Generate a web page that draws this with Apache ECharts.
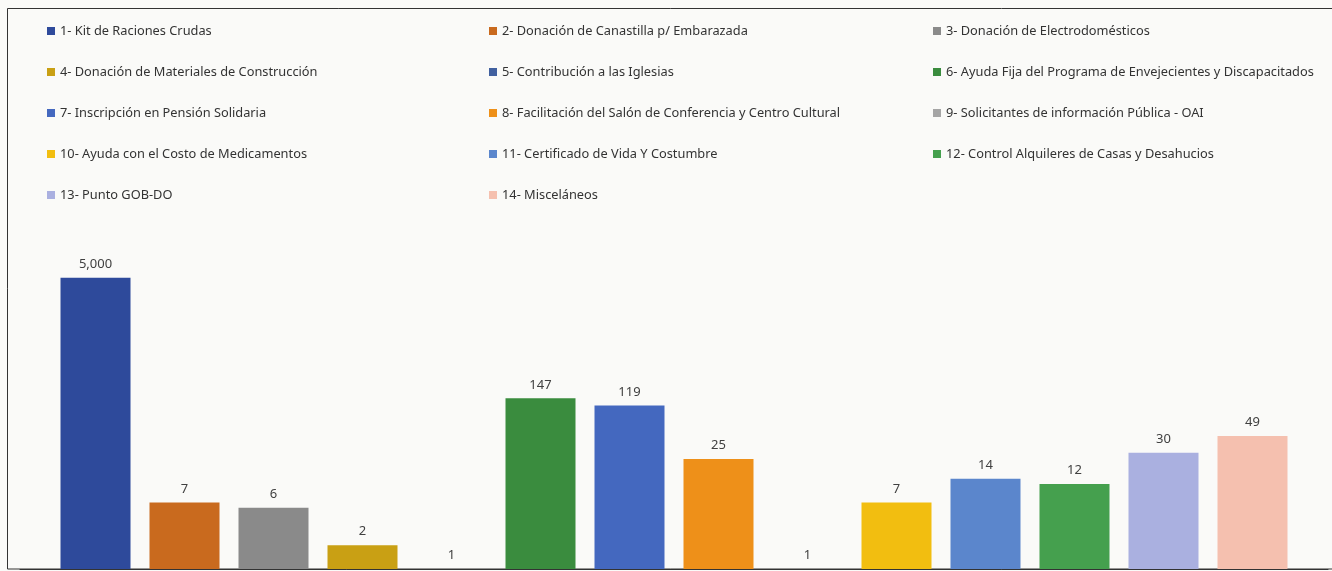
<!DOCTYPE html>
<html>
<head>
<meta charset="utf-8">
<script src="https://cdn.jsdelivr.net/npm/echarts@6/dist/echarts.min.js"></script>
<style>
html,body{margin:0;padding:0;background:#FAFAF8;}
#c{width:1332px;height:571px;}
</style>
</head>
<body>
<div id="c"></div>
<script>
const categories = [
  "1- Kit de Raciones Crudas",
  "2- Donación de Canastilla p/ Embarazada",
  "3- Donación de Electrodomésticos",
  "4- Donación de Materiales de Construcción",
  "5- Contribución a las Iglesias",
  "6- Ayuda Fija del Programa de Envejecientes y Discapacitados",
  "7- Inscripción en Pensión Solidaria",
  "8- Facilitación del Salón de Conferencia y Centro Cultural",
  "9- Solicitantes de información Pública - OAI",
  "10- Ayuda con el Costo de Medicamentos",
  "11- Certificado de Vida Y Costumbre",
  "12- Control Alquileres de Casas y Desahucios",
  "13- Punto GOB-DO",
  "14- Misceláneos"
];
const values = [5000, 7, 6, 2, 1, 147, 119, 25, 1, 7, 14, 12, 30, 49];
const colors = ["#2E4A9B","#C96A1E","#8A8A8A","#C9A014","#41609F","#3A8C3E","#4468BF",
                "#EE9019","#A5A5A5","#F2BE10","#5B86CC","#45A04E","#AAB0E0","#F5C0AF"];

const chart = echarts.init(document.getElementById('c'));

const series = categories.map((name, i) => ({
  type: 'bar',
  name: name,
  data: [values[i]],
  barWidth: 70,
  barGap: '27.14%',
  itemStyle: { color: colors[i] },
  label: {
    show: true, position: 'top', distance: 7,
    color: '#404040', fontSize: 13, fontFamily: 'Noto Sans',
    formatter: p => p.value.toLocaleString('en-US')
  }
}));

const legendCommon = {
  orient: 'vertical', top: 24, padding: 0, itemWidth: 8, itemHeight: 8, icon: 'rect',
  itemGap: 27, selectedMode: false,
  textStyle: { color: '#333', fontSize: 12.8, fontFamily: 'Noto Sans', lineHeight: 14 }
};

chart.setOption({
  backgroundColor: '#FAFAF8',
  animation: false,
  color: colors,
  legend: [
    Object.assign({}, legendCommon, { left: 47, data: [0,3,6,9,12].map(i => categories[i]) }),
    Object.assign({}, legendCommon, { left: 489, data: [1,4,7,10,13].map(i => categories[i]) }),
    Object.assign({}, legendCommon, { left: 933, data: [2,5,8,11].map(i => categories[i]) })
  ],
  grid: { left: 20, right: 4, top: 254, bottom: 2, containLabel: false },
  xAxis: {
    type: 'category', data: [''],
    axisLine: { show: true, lineStyle: { color: '#333', width: 1 } },
    axisTick: { show: false }, axisLabel: { show: false }
  },
  yAxis: {
    type: 'log', logBase: 10, min: 1, max: 10000,
    show: false, splitLine: { show: false }
  },
  graphic: [{
    type: 'rect', shape: { x: 7.5, y: 8.5, width: 1340, height: 560.5 },
    style: { fill: 'none', stroke: '#333', lineWidth: 1 }, silent: true, z: -1
  }],
  series: series
});
</script>
</body>
</html>
